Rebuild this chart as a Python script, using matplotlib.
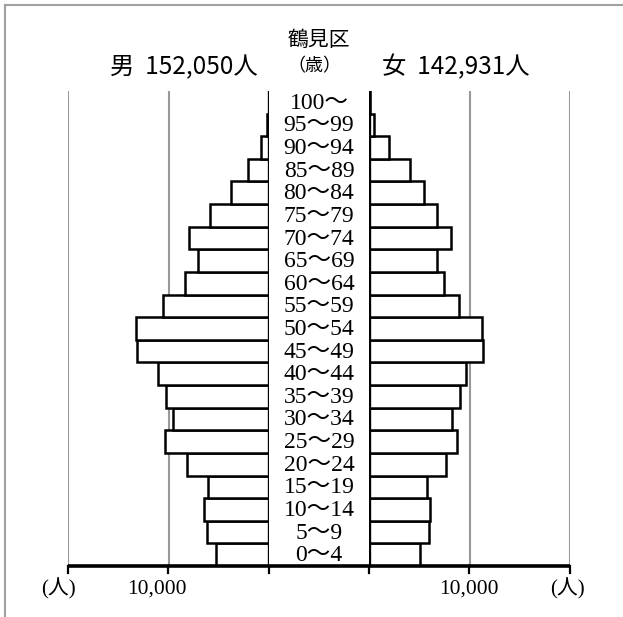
import matplotlib
matplotlib.use("Agg")
import matplotlib.pyplot as plt
from matplotlib.lines import Line2D

ages = ["0～4", "5～9", "10～14", "15～19", "20～24", "25～29", "30～34",
        "35～39", "40～44", "45～49", "50～54", "55～59", "60～64", "65～69",
        "70～74", "75～79", "80～84", "85～89", "90～94", "95～99", "100～"]
male = [5300, 6200, 6430, 6060, 8160, 10360, 9600, 10230, 11000, 13100, 13230,
        10560, 8400, 7060, 7960, 5830, 3830, 2060, 760, 230, 25]
female = [5100, 5930, 6030, 5800, 7700, 8730, 8230, 9100, 9700, 11370, 11270,
          9000, 7430, 6730, 8130, 6730, 5500, 4030, 1970, 500, 120]
title = "鶴見区"
male_label = "男  152,050人"
female_label = "女  142,931人"
age_unit = "（歳）"
grid_vals = [10000, 20000]

W, H = 623, 617
fig = plt.figure(figsize=(W / 100, H / 100), dpi=100)

def fx(x):
    return x / W

def fy(y):
    return 1 - y / H

SANS = ["Noto Sans CJK JP", "DejaVu Sans"]
SERIF = ["Liberation Serif", "Noto Sans CJK JP"]

top, base = 91, 566
xl0, xl1 = 68, 269
xr0, xr1 = 369, 570
axl = fig.add_axes([fx(xl0), fy(base), (xl1 - xl0) / W, (base - top) / H])
axr = fig.add_axes([fx(xr0), fy(base), (xr1 - xr0) / W, (base - top) / H])

ypos = list(range(len(ages)))
for ax, vals, inv in [(axl, male, True), (axr, female, False)]:
    ax.set_ylim(-0.5, len(ages) - 0.5)
    if inv:
        ax.set_xlim(20000, 0)
    else:
        ax.set_xlim(0, 20000)
    ax.axis("off")
    for g in grid_vals:
        ax.axvline(g, color="#999999", lw=1.5, zorder=1)
    ax.barh(ypos, vals, height=1.0, color="white", edgecolor="black",
            linewidth=1.8, zorder=2)
    ax.axvline(0, color="black", lw=2.4, zorder=3)

# baseline and ticks
fig.add_artist(Line2D([fx(xl0), fx(xr1)], [fy(base), fy(base)],
                      color="black", lw=2.6, solid_capstyle="butt"))
for tx in [68, 168, 269, 369, 469, 570]:
    fig.add_artist(Line2D([fx(tx), fx(tx)], [fy(base), fy(base + 7)],
                          color="black", lw=1.6))

# age labels
for i, a in enumerate(ages):
    yc = base - (i + 0.5) * (base - top) / len(ages)
    fig.text(fx(319), fy(yc + 1), a, ha="center", va="center",
             fontsize=17, family=SERIF)

# headings
fig.text(fx(319), fy(40), title, ha="center", va="center", fontsize=15, family=SANS)
fig.text(fx(184), fy(67), male_label, ha="center", va="center", fontsize=17.5, family=SANS)
fig.text(fx(314), fy(66), age_unit, ha="center", va="center", fontsize=13, family=SANS)
fig.text(fx(456), fy(67), female_label, ha="center", va="center", fontsize=17.5, family=SANS)

# bottom labels
fig.text(fx(58), fy(589), "(人)", ha="center", va="center", fontsize=15, family=SERIF)
fig.text(fx(157), fy(589), "10,000", ha="center", va="center", fontsize=15.5, family=SERIF)
fig.text(fx(469), fy(589), "10,000", ha="center", va="center", fontsize=15.5, family=SERIF)
fig.text(fx(567), fy(589), "(人)", ha="center", va="center", fontsize=15, family=SERIF)

# frame
fig.add_artist(Line2D([fx(5), fx(623)], [fy(5), fy(5)], color="#a0a0a0", lw=1.5))
fig.add_artist(Line2D([fx(5), fx(5)], [fy(5), fy(617)], color="#a0a0a0", lw=1.5))

fig.savefig("out.png", dpi=100, facecolor="white")
